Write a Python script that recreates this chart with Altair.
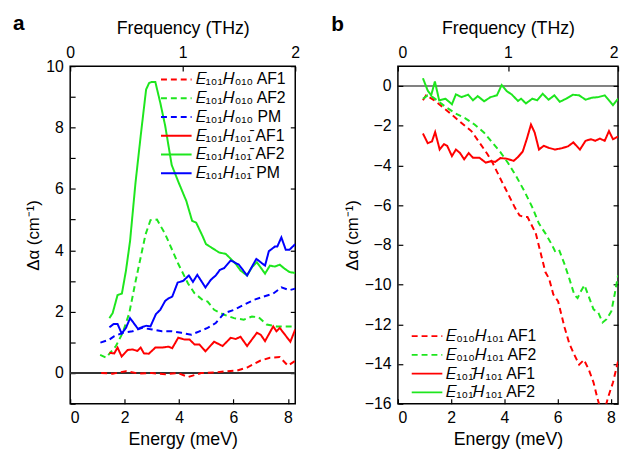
import altair as alt
import pandas as pd

FONT = "Liberation Sans"
RED, GREEN, BLUE = "#ff0000", "#1ee61e", "#0000ff"
EMAX = 8.27  # 2 THz expressed in meV

# ---------------- Panel a ----------------
a_af1_dash_E = [1.14, 1.56, 2.05, 2.53, 3.0, 3.5, 3.97, 4.33, 4.81, 5.3, 5.78, 6.14, 6.5, 6.98, 7.34, 7.7, 8.0, 8.27]
a_af1_dash_V = [0.0, -0.02, 0.06, -0.02, 0.0, -0.04, 0.0, -0.13, 0.0, 0.02, 0.06, 0.08, 0.18, 0.4, 0.5, 0.52, 0.24, 0.4]

a_af2_dash_E = [1.1, 1.32, 1.68, 1.93, 2.17, 2.41, 2.77, 2.95, 3.19, 3.49, 3.97, 4.33, 4.57, 4.87, 5.05, 5.29, 5.66,
                6.02, 6.38, 6.68, 6.92, 7.22, 7.58, 7.94, 8.27]
a_af2_dash_V = [0.59, 0.5, 0.88, 1.31, 1.95, 3.02, 4.52, 4.98, 5.0, 4.53, 3.56, 2.92, 2.6, 2.38, 2.33, 2.06, 1.9,
                1.79, 1.74, 1.84, 1.82, 1.58, 1.52, 1.52, 1.52]

a_pm_dash_E = [1.11, 1.44, 1.62, 1.93, 2.29, 2.65, 3.01, 3.37, 3.73, 4.09, 4.45, 4.75, 5.05, 5.35, 5.66, 6.02, 6.38,
               6.74, 7.1, 7.46, 7.76, 8.06, 8.27]
a_pm_dash_V = [0.99, 1.09, 1.2, 1.31, 1.36, 1.47, 1.42, 1.36, 1.36, 1.31, 1.25, 1.36, 1.47, 1.63, 1.95, 2.06, 2.22,
               2.38, 2.49, 2.59, 2.79, 2.7, 2.75]

a_af1_E = [1.44, 1.62, 1.74, 1.89, 2.11, 2.29, 2.47, 2.59, 2.71, 2.89, 3.13, 3.37, 3.61, 3.75, 3.97, 4.21, 4.39,
           4.57, 4.75, 4.97, 5.29, 5.6, 5.9, 6.08, 6.26, 6.5, 6.86, 7.0, 7.16, 7.46, 7.58, 7.7, 8.09, 8.27]
a_af1_V = [0.66, 0.64, 0.83, 0.54, 0.75, 0.77, 0.72, 0.83, 0.64, 0.63, 0.83, 0.83, 0.86, 0.81, 1.15, 1.09, 1.09,
           0.93, 0.93, 0.71, 1.02, 0.88, 1.15, 1.11, 1.18, 0.88, 1.31, 1.25, 1.04, 1.52, 1.36, 1.47, 1.02, 1.42]

a_af2_E = [1.44, 1.56, 1.74, 1.9, 2.05, 2.2, 2.4, 2.6, 2.79, 2.9, 2.98, 3.13, 3.31, 3.49, 3.73, 3.97, 4.27, 4.48,
           4.63, 4.87, 4.99, 5.17, 5.47, 5.72, 5.9, 6.08, 6.26, 6.5, 6.68, 6.86, 7.16, 7.34, 7.52, 7.7, 7.88, 8.06, 8.27]
a_af2_V = [1.79, 1.95, 2.54, 2.59, 3.34, 4.3, 6.2, 7.8, 9.24, 9.45, 9.48, 9.48, 8.81, 8.06, 6.78, 6.24, 5.6, 4.96,
           4.9, 4.45, 4.2, 4.1, 3.93, 3.88, 3.72, 3.56, 3.34, 3.18, 3.45, 3.61, 3.24, 3.5, 3.47, 3.53, 3.4, 3.29, 3.26]

a_pm_E = [1.44, 1.6, 1.74, 1.89, 2.05, 2.2, 2.35, 2.49, 2.65, 2.79, 2.95, 3.15, 3.31, 3.49, 3.61, 3.75, 3.95, 4.15,
          4.36, 4.51, 4.67, 4.97, 5.17, 5.35, 5.5, 5.66, 5.9, 6.2, 6.5, 6.84, 7.16, 7.3, 7.52, 7.61, 7.76, 7.92, 8.06, 8.27]
a_pm_V = [1.49, 1.6, 1.6, 1.29, 1.47, 1.79, 1.61, 1.44, 1.5, 1.54, 1.52, 1.92, 2.06, 2.35, 2.43, 2.49, 2.95, 3.0,
          3.18, 2.97, 3.2, 2.79, 3.04, 3.18, 3.36, 3.42, 3.67, 3.53, 3.18, 3.72, 3.5, 3.97, 4.12, 4.12, 4.42, 4.02, 4.02, 4.2]

# ---------------- Panel b ----------------
b_af1_dash_E = [0.94, 1.06, 1.37, 1.67, 2.03, 2.39, 2.76, 3.06, 3.36, 3.54, 3.72, 3.9, 4.15, 4.39, 4.57, 4.75, 4.87,
                5.18, 5.36, 5.54, 5.68, 5.84, 6.02, 6.14, 6.26, 6.44, 6.63, 6.81, 6.99, 7.17, 7.35, 7.5, 7.62, 7.77,
                7.9, 8.08, 8.27]
b_af1_dash_V = [-0.72, -0.47, -0.72, -1.05, -1.45, -1.86, -2.27, -2.84, -3.42, -3.82, -4.31, -4.8, -5.46, -6.11,
                -6.52, -6.6, -6.6, -7.42, -8.39, -9.37, -9.7, -10.5, -10.85, -11.5, -12.15, -12.97, -13.54, -14.03,
                -13.79, -14.28, -14.93, -15.75, -16.3, -16.3, -15.66, -14.93, -13.87]

b_af2_dash_E = [0.94, 1.12, 1.31, 1.55, 1.79, 2.15, 2.52, 2.88, 3.24, 3.54, 3.85, 4.15, 4.45, 4.75, 5.05, 5.3, 5.54,
                5.78, 5.9, 6.05, 6.26, 6.44, 6.63, 6.75, 6.87, 7.01, 7.17, 7.35, 7.53, 7.69, 7.84, 8.02, 8.14, 8.27]
b_af2_dash_V = [-0.64, -0.47, -0.56, -0.8, -1.05, -1.37, -1.62, -1.94, -2.35, -2.84, -3.33, -3.9, -4.56, -5.29,
                -6.11, -6.93, -7.42, -7.98, -8.31, -8.23, -8.97, -9.7, -10.52, -10.68, -10.35, -10.03, -10.6,
                -11.25, -11.42, -11.91, -11.74, -11.34, -10.52, -9.54]

b_af1_E = [0.94, 1.12, 1.28, 1.4, 1.57, 1.73, 1.85, 2.03, 2.18, 2.33, 2.49, 2.66, 2.82, 3.06, 3.3, 3.48, 3.66, 3.85,
           4.09, 4.35, 4.51, 4.69, 4.84, 5.0, 5.14, 5.3, 5.48, 5.68, 5.9, 6.14, 6.39, 6.59, 6.84, 7.05, 7.26, 7.41,
           7.59, 7.77, 7.93, 8.08, 8.27]
b_af1_V = [-2.39, -2.88, -2.79, -2.32, -3.2, -2.93, -3.01, -3.53, -3.2, -3.37, -3.69, -3.38, -3.61, -3.61, -3.86,
           -3.79, -3.82, -3.63, -3.66, -3.77, -3.58, -3.3, -2.68, -1.94, -2.35, -3.2, -3.01, -3.12, -3.2, -3.14,
           -3.04, -2.84, -3.2, -2.76, -2.68, -2.76, -2.65, -2.76, -2.27, -2.68, -2.55]

b_af2_E = [0.94, 1.12, 1.25, 1.39, 1.55, 1.79, 2.03, 2.18, 2.39, 2.64, 2.82, 3.0, 3.24, 3.48, 3.72, 3.9, 4.09, 4.27,
           4.51, 4.63, 4.81, 5.05, 5.23, 5.44, 5.66, 5.88, 6.08, 6.32, 6.57, 6.81, 7.05, 7.29, 7.53, 7.77, 7.93,
           8.08, 8.27]
b_af2_V = [0.39, -0.23, -0.47, 0.23, -0.72, -0.64, -0.92, -0.42, -0.56, -0.44, -0.72, -0.51, -0.77, -0.56, -0.47,
           0.05, -0.26, -0.42, -0.75, -0.64, -0.88, -0.64, -0.72, -0.39, -0.69, -0.47, -0.8, -0.64, -0.44, -0.47,
           -0.69, -0.59, -0.56, -0.47, -0.72, -0.97, -0.64]

# ---------------- Labels ----------------
Ei, Hi = "\U0001D438", "\U0001D43B"
S101 = "\u2081\u2080\u2081"
S010 = "\u2080\u2081\u2080"
S10B = "\u2081\u2080\u2081\u0304"

a_names = [Ei + S101 + Hi + S010 + " AF1", Ei + S101 + Hi + S010 + " AF2", Ei + S101 + Hi + S010 + " PM",
           Ei + S101 + Hi + S10B + " AF1", Ei + S101 + Hi + S10B + " AF2", Ei + S101 + Hi + S10B + " PM"]
a_colors = [RED, GREEN, BLUE, RED, GREEN, BLUE]
a_dashes = [[6, 4], [6, 4], [6, 4], [1, 0], [1, 0], [1, 0]]
a_E = [a_af1_dash_E, a_af2_dash_E, a_pm_dash_E, a_af1_E, a_af2_E, a_pm_E]
a_V = [a_af1_dash_V, a_af2_dash_V, a_pm_dash_V, a_af1_V, a_af2_V, a_pm_V]

b_names = [Ei + S010 + Hi + S101 + " AF1", Ei + S010 + Hi + S101 + " AF2",
           Ei + S10B + Hi + S101 + " AF1", Ei + S10B + Hi + S101 + " AF2"]
b_colors = [RED, GREEN, RED, GREEN]
b_dashes = [[6, 4], [6, 4], [1, 0], [1, 0]]
b_E = [b_af1_dash_E, b_af2_dash_E, b_af1_E, b_af2_E]
b_V = [b_af1_dash_V, b_af2_dash_V, b_af1_V, b_af2_V]

EVEN_ONLY = "abs(datum.value/2 - round(datum.value/2)) < 0.001 ? format(datum.value, 'd') : ''"


def long_df(names, es, vs):
    rows = []
    for n, e, v in zip(names, es, vs):
        for x, y in zip(e, v):
            rows.append({"series": n, "E": x, "v": y})
    return pd.DataFrame(rows)


def panel(names, es, vs, colors, dashes, ydomain, yleft_count, yright_count, legend_xy, letter, letter_xy,
          zero_color, zero_width, width, flush_top):
    df = long_df(names, es, vs)
    yscale = alt.Scale(domain=ydomain, nice=False, zero=False)
    legend = alt.Legend(title=None, orient="none", legendX=legend_xy[0], legendY=legend_xy[1],
                        symbolType="stroke", symbolSize=961, symbolStrokeWidth=2, clipHeight=19,
                        rowPadding=0, labelOffset=3, padding=0, labelFontSize=16, labelFont=FONT,
                        labelLimit=300)
    lines = alt.Chart(df).mark_line(strokeWidth=2, clip=True).encode(
        x=alt.X("E:Q", scale=alt.Scale(domain=[0, EMAX], nice=False),
                axis=alt.Axis(orient="bottom", tickCount=4, title="Energy (meV)",
                              offset=-5, tickSize=5, domain=False, labelPadding=6, titlePadding=5,
                              format="d", labelOverlap=False)),
        y=alt.Y("v:Q", scale=yscale,
                axis=alt.Axis(orient="left", tickCount=yleft_count, title="Δα (cm⁻¹)", offset=-5,
                              tickSize=5, domain=False, labelPadding=7, titlePadding=3, format="d",
                              labelExpr=EVEN_ONLY, labelOverlap=False, titleFontSize=17)),
        color=alt.Color("series:N", scale=alt.Scale(domain=names, range=colors), legend=legend),
        strokeDash=alt.StrokeDash("series:N", scale=alt.Scale(domain=names, range=dashes), legend=legend),
    )
    zero = alt.Chart(pd.DataFrame({"z": [0]})).mark_rule(color=zero_color, strokeWidth=zero_width).encode(
        y=alt.Y("z:Q", scale=yscale,
                axis=alt.Axis(orient="right", tickCount=yright_count, labels=False, title=None,
                              offset=-5, tickSize=5, domain=False))
    )
    freq = alt.Chart(pd.DataFrame({"f": [0, 2]})).mark_point(size=0, opacity=0, strokeWidth=0).encode(
        x=alt.X("f:Q", scale=alt.Scale(domain=[0, 2], nice=False),
                axis=alt.Axis(orient="top", tickCount=2, title="Frequency (THz)",
                              offset=-5, tickSize=5, domain=False, labelPadding=6, titlePadding=7,
                              format="d", labelOverlap=False, labelFlush=flush_top))
    )
    tag = alt.Chart(pd.DataFrame({"t": [letter]})).mark_text(
        font=FONT, fontSize=21, fontWeight="bold", align="center", baseline="alphabetic", color="black"
    ).encode(x=alt.value(letter_xy[0]), y=alt.value(letter_xy[1]), text="t:N")
    return alt.layer(zero, lines, freq, tag).resolve_scale(x="independent").resolve_axis(
        x="independent", y="independent").properties(width=width, height=342)


pa = panel(a_names, a_E, a_V, a_colors, a_dashes, [-1, 10], 22, 5,
           (91, 4), "a", (-52, -37), "#333333", 2, 228, False)
pb = panel(b_names, b_E, b_V, b_colors, b_dashes, [-16, 1], 8, 8,
           (13, 264), "b", (-61, -36), "black", 1, 223, True)

chart = alt.hconcat(pa, pb, spacing=29).resolve_scale(
    color="independent", strokeDash="independent"
).properties(
    padding={"left": 4, "top": 1, "right": 0, "bottom": 0}
).configure_axis(
    labelFont=FONT, labelFontSize=16, titleFont=FONT, titleFontSize=18, titleFontWeight="normal",
    labelColor="black", titleColor="black", tickColor="black", tickWidth=1.2, grid=False
).configure_legend(
    labelColor="black"
).configure_view(
    stroke="black", strokeWidth=1.5
)

chart.save("out.html", embed_options={"renderer": "svg", "actions": False})
